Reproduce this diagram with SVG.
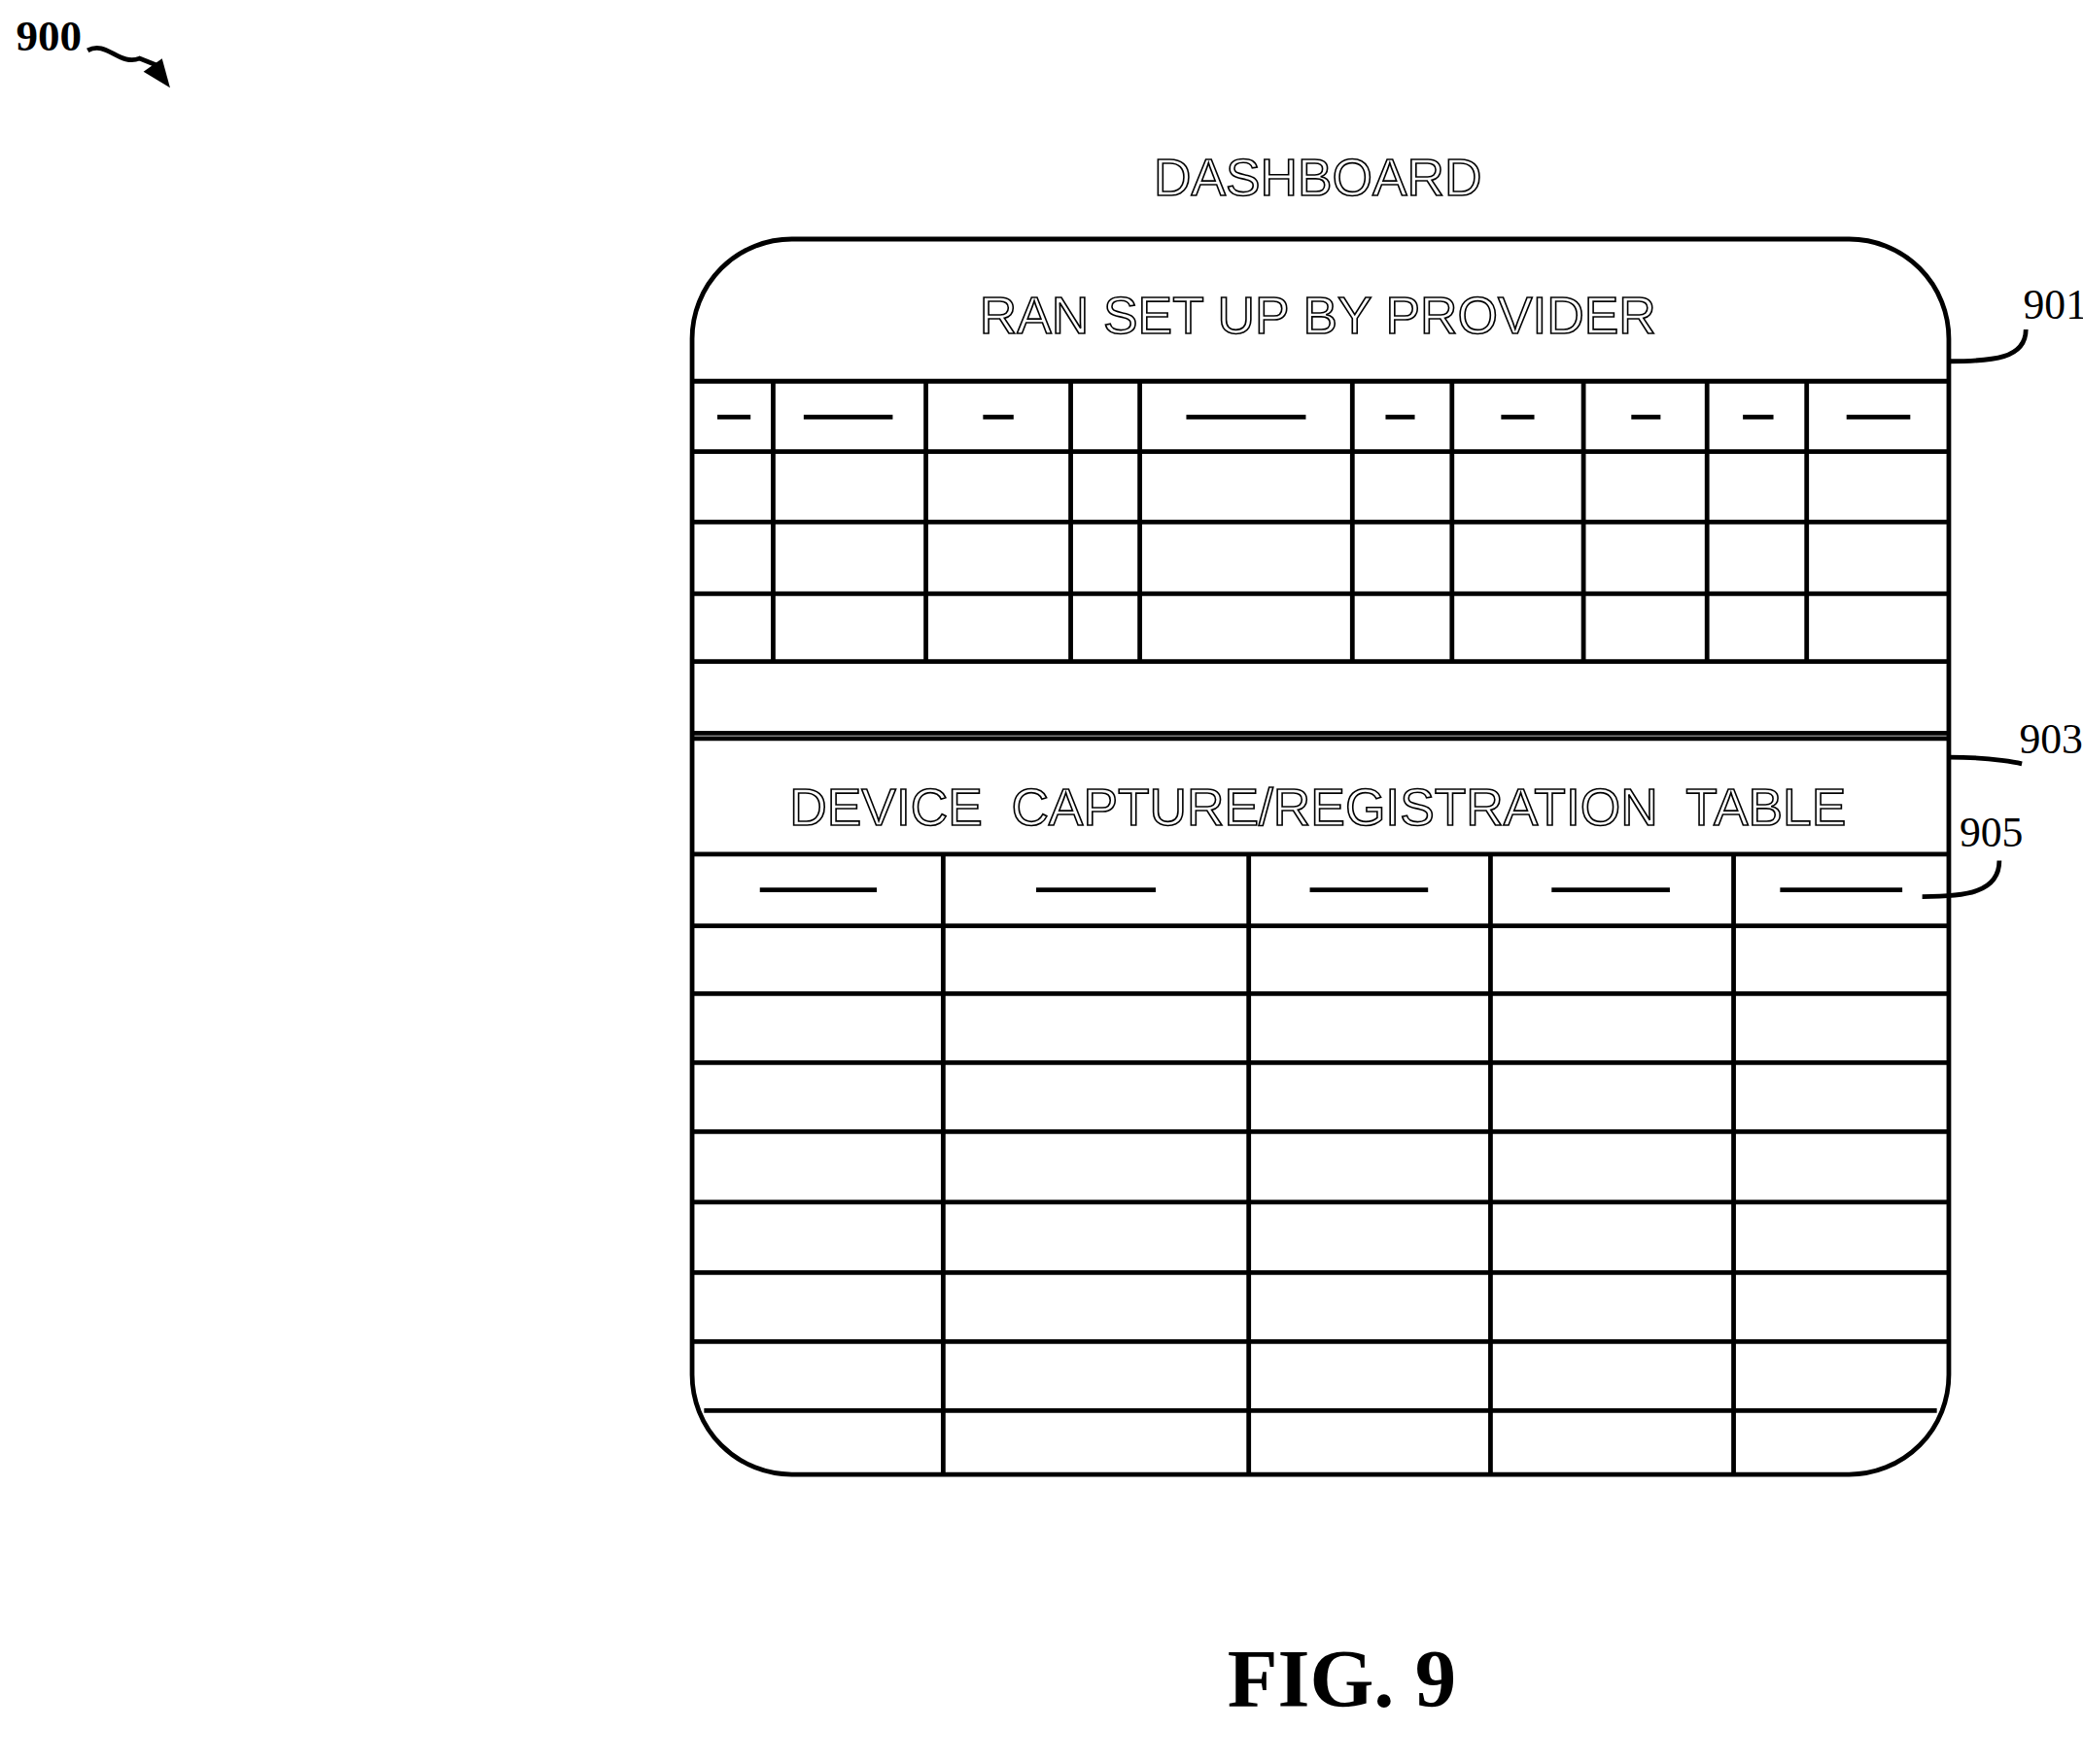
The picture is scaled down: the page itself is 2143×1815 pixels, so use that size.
<svg xmlns="http://www.w3.org/2000/svg" width="2143" height="1815" viewBox="0 0 2143 1815">
<style>
.l{stroke:#000;stroke-width:3.5;fill:none}
.t{font-family:"Liberation Sans",Arial,sans-serif;font-size:39px;fill:#fff;stroke:#000;stroke-width:1.2;text-anchor:middle}
.n{font-family:"Liberation Serif","Times New Roman",serif;fill:#000}
</style>
<rect width="2143" height="1815" fill="#fff"/>
<g transform="scale(1.3667)">
<g id="label900"><text class="n" x="12" y="38" style="font-size:33px;font-weight:bold">900</text>
<path class="l" d="M66 38 C80 30 90 50 105 44 L120 50" stroke-width="2.5"/><path d="M128 66 L108 54 L122 44 Z" fill="#000"/></g>
<g id="title"><text class="t" x="992" y="147">DASHBOARD</text></g>
<g id="dashboard">
<rect class="l" x="521" y="180" width="946" height="930" rx="75"/>
<text class="t" x="992" y="251">RAN SET UP BY PROVIDER</text>
<path class="l" d="M521 287H1467M521 340H1467M521 393H1467M521 447H1467M521 498H1467M521 552H1467M521 556H1467M521 643H1467"/>
<path class="l" d="M582 287V498M697 287V498M806 287V498M858 287V498M1018 287V498M1093 287V498M1192 287V498M1285 287V498M1360 287V498"/>
<path class="l" d="M540 314H565M605 314H672M740 314H763M893 314H983M1043 314H1065M1130 314H1155M1228 314H1250M1312 314H1335M1390 314H1438"/>
<text class="t" x="992" y="621" xml:space="preserve">DEVICE  CAPTURE/REGISTRATION  TABLE</text>
<path class="l" d="M521 697H1467M521 748H1467M521 800H1467M521 852H1467M521 905H1467M521 958H1467M521 1010H1467M530 1062H1458"/>
<path class="l" d="M710 643V1110M940 643V1110M1122 643V1110M1305 643V1110"/>
<path class="l" d="M572 670H660M780 670H870M986 670H1075M1168 670H1257M1340 670H1432"/>
</g>
<g id="connectors">
<path class="l" stroke-width="2" d="M1467 272 C1500 272 1525 270 1525 248"/>
<path class="l" stroke-width="2" d="M1467 570 C1500 570 1522 575 1522 575"/>
<path class="l" stroke-width="2" d="M1447 675 C1480 675 1505 672 1505 648"/>
</g>
<g id="refs">
<text class="n" x="1523" y="240" style="font-size:32px">901</text>
<text class="n" x="1520" y="567" style="font-size:32px">903</text>
<text class="n" x="1475" y="637" style="font-size:32px">905</text>
</g>
<text class="n" x="1010" y="1285" style="font-size:62px;font-weight:bold" text-anchor="middle">FIG. 9</text>
</g>
</svg>
